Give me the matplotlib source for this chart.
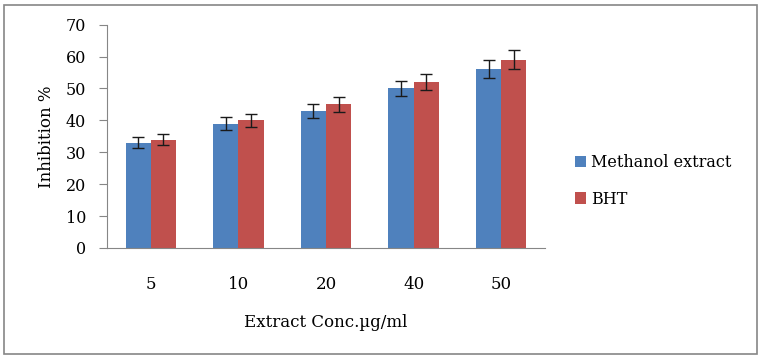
import numpy as np
from matplotlib import pyplot as plt
from matplotlib.patches import Rectangle

# data
concs = ['5', '10', '20', '40', '50']
methanol = [33, 39, 43, 50, 56]
bht = [34, 40, 45, 52, 59]
methanol_err = [1.65, 1.95, 2.15, 2.5, 2.8]
bht_err = [1.7, 2.0, 2.25, 2.6, 2.95]

plt.rcParams['font.family'] = ['DejaVu Serif']

fig = plt.figure(figsize=(7.63, 3.58), dpi=100)
ax = fig.add_axes([0.1402, 0.3073, 0.5741, 0.6237])

x = np.arange(len(concs))
w = 0.287
err_kw = dict(ecolor='#1a1a1a', capsize=4, elinewidth=1, capthick=1)
ax.bar(x - w/2, methanol, w, color='#4F81BD', yerr=methanol_err, error_kw=err_kw, label='Methanol extract')
ax.bar(x + w/2, bht, w, color='#C0504D', yerr=bht_err, error_kw=err_kw, label='BHT')

ax.set_xlim(-0.5, len(concs) - 0.5)
ax.set_ylim(0, 70)
ax.set_yticks(range(0, 71, 10))
ax.set_xticks(x)
ax.set_xticklabels(concs)

for s in ['top', 'right']:
    ax.spines[s].set_visible(False)
for s in ['left', 'bottom']:
    ax.spines[s].set_color('#868686')
ax.tick_params(axis='y', length=6, color='#868686', labelsize=11.5, pad=9)
ax.tick_params(axis='x', length=0, labelsize=12, pad=20)

ax.set_ylabel('Inhibition %', fontsize=12, labelpad=8)
ax.set_xlabel('Extract Conc.µg/ml', fontsize=12, labelpad=15)

ax.legend(loc='center left', bbox_to_anchor=(1.035, 0.3), frameon=False,
          fontsize=11.5, handlelength=0.7, handleheight=0.7, handletextpad=0.35,
          labelspacing=1.2)

fig.patches.append(Rectangle((4/763, 4/358), 753/763, 349/358, transform=fig.transFigure,
                             fill=False, edgecolor='#868686', linewidth=1.2))

fig.savefig('out.png', dpi=100)
